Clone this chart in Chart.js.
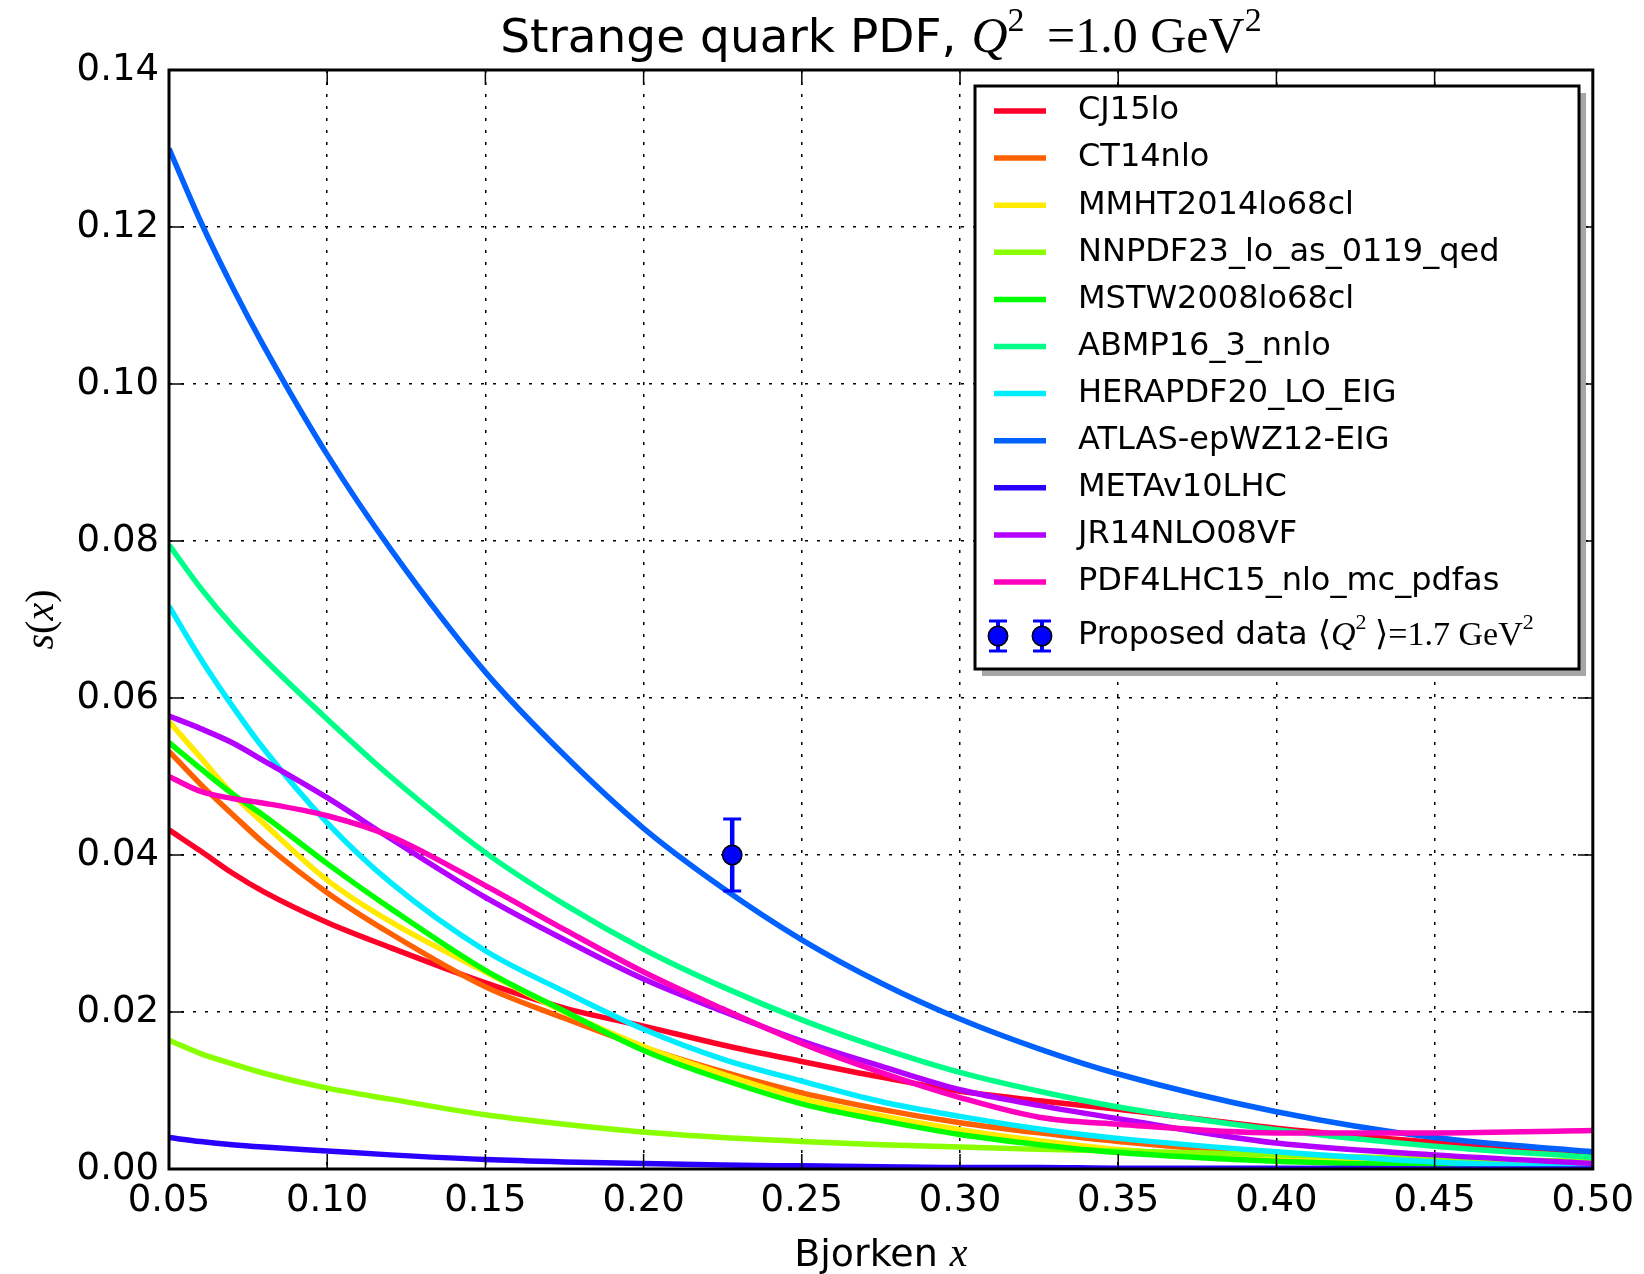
<!DOCTYPE html>
<html>
<head>
<meta charset="utf-8">
<script src="https://cdn.jsdelivr.net/npm/chart.js@4.4.0/dist/chart.umd.min.js"></script>
<style>
  body { margin: 0; background: #fff; }
</style>
</head>
<body>
<canvas id="c" width="1644" height="1274"></canvas>
<script>
// Bjorken x sampling points
const xs = [0.05, 0.06, 0.07, 0.08, 0.10, 0.12, 0.15, 0.175, 0.20, 0.225, 0.25, 0.275, 0.30, 0.325, 0.35, 0.40, 0.45, 0.50];

// s(x), one list per PDF set
const cj15    = [0.0432, 0.0405, 0.0377, 0.0353, 0.0314, 0.0282, 0.0237, 0.0205, 0.0182, 0.0158, 0.0137, 0.0117, 0.0099, 0.0087, 0.0076, 0.0052, 0.0034, 0.0020];
const ct14    = [0.0532, 0.0490, 0.0452, 0.0415, 0.0352, 0.0300, 0.0232, 0.0192, 0.0155, 0.0124, 0.0097, 0.0076, 0.0059, 0.0046, 0.0035, 0.0019, 0.0010, 0.0005];
const mmht    = [0.0570, 0.0524, 0.0478, 0.0440, 0.0368, 0.0315, 0.0251, 0.0200, 0.0156, 0.0121, 0.0090, 0.0068, 0.0050, 0.0036, 0.0025, 0.0013, 0.0006, 0.0003];
const nnpdf   = [0.0164, 0.0147, 0.0134, 0.0122, 0.0103, 0.0089, 0.0069, 0.0057, 0.0047, 0.0040, 0.0035, 0.0031, 0.0028, 0.0025, 0.0023, 0.0018, 0.0013, 0.0010];
const mstw    = [0.0543, 0.0510, 0.0478, 0.0450, 0.0389, 0.0332, 0.0253, 0.0201, 0.0151, 0.0114, 0.0083, 0.0062, 0.0044, 0.0031, 0.0021, 0.0010, 0.0005, 0.0002];
const abmp    = [0.0795, 0.0740, 0.0692, 0.0650, 0.0573, 0.0500, 0.0403, 0.0337, 0.0280, 0.0232, 0.0190, 0.0154, 0.0123, 0.0099, 0.0079, 0.0050, 0.0029, 0.0015];
const hera    = [0.0717, 0.0650, 0.0590, 0.0535, 0.0441, 0.0365, 0.0278, 0.0226, 0.0178, 0.0140, 0.0112, 0.0086, 0.0067, 0.0051, 0.0039, 0.0022, 0.0009, 0.0002];
const atlas   = [0.1300, 0.1207, 0.1124, 0.1048, 0.0910, 0.0790, 0.0633, 0.0527, 0.0434, 0.0358, 0.0292, 0.0237, 0.0191, 0.0153, 0.0121, 0.0073, 0.0040, 0.0022];
const meta    = [0.0040, 0.0035, 0.0031, 0.0028, 0.0023, 0.0018, 0.0012, 0.0009, 0.0007, 0.0005, 0.0004, 0.0003, 0.0002, 0.0002, 0.0001, 0.0001, 0.0000, 0.0000];
const jr14    = [0.0577, 0.0561, 0.0543, 0.0520, 0.0473, 0.0421, 0.0346, 0.0292, 0.0242, 0.0201, 0.0163, 0.0131, 0.0101, 0.0081, 0.0064, 0.0033, 0.0018, 0.0007];
const pdf4lhc = [0.0500, 0.0481, 0.0472, 0.0466, 0.0450, 0.0424, 0.0361, 0.0305, 0.0251, 0.0204, 0.0160, 0.0123, 0.0091, 0.0066, 0.0057, 0.0046, 0.0046, 0.0049];

const labels = ['CJ15lo', 'CT14nlo', 'MMHT2014lo68cl', 'NNPDF23_lo_as_0119_qed', 'MSTW2008lo68cl',
                'ABMP16_3_nnlo', 'HERAPDF20_LO_EIG', 'ATLAS-epWZ12-EIG', 'METAv10LHC', 'JR14NLO08VF', 'PDF4LHC15_nlo_mc_pdfas'];
const series = [cj15, ct14, mmht, nnpdf, mstw, abmp, hera, atlas, meta, jr14, pdf4lhc];
const colors = ['#ff0029', '#ff6000', '#ffea00', '#8aff00', '#00ff00', '#00ff89',
                '#00ecff', '#0061ff', '#2a00ff', '#b400ff', '#ff00bf'];

// proposed measurement
const dataX = [0.228];
const dataY = [0.040];
const dataErr = [0.0046];

const xTicks = { min: 0.05, max: 0.50, step: 0.05 };
const yTicks = { min: 0.00, max: 0.14, step: 0.02 };

const SANS = '"DejaVu Sans", sans-serif';
const SERIF = '"Liberation Serif", "DejaVu Serif", serif';

function drawRuns(ctx, runs, x, y, center) {
    let total = 0;
    runs.forEach(r => { ctx.font = r.font; r.w = ctx.measureText(r.t).width; total += r.w; });
    let px = center ? x - total / 2 : x;
    runs.forEach(r => { ctx.font = r.font; ctx.fillText(r.t, px, y + (r.dy || 0)); px += r.w; });
}

function line(ctx, x1, y1, x2, y2) {
    ctx.beginPath();
    ctx.moveTo(x1, y1);
    ctx.lineTo(x2, y2);
    ctx.stroke();
}

function errMarker(ctx, x, y, r, half, cap) {
    ctx.strokeStyle = '#0000ff';
    ctx.lineWidth = 4;
    line(ctx, x, y - half, x, y + half);
    ctx.lineWidth = 3;
    line(ctx, x - cap, y - half, x + cap, y - half);
    line(ctx, x - cap, y + half, x + cap, y + half);
    ctx.beginPath();
    ctx.arc(x, y, r, 0, Math.PI * 2);
    ctx.fillStyle = '#0000ff';
    ctx.fill();
    ctx.lineWidth = 1.5;
    ctx.strokeStyle = '#000';
    ctx.stroke();
}

const decor = {
    id: 'decor',
    afterDraw(chart) {
        const ctx = chart.ctx;
        const a = chart.chartArea;
        const sx = chart.scales.x, sy = chart.scales.y;
        ctx.save();

        // inward ticks on all four sides
        ctx.strokeStyle = '#000';
        ctx.lineWidth = 1.5;
        sx.ticks.forEach(t => {
            const p = sx.getPixelForValue(t.value);
            line(ctx, p, a.bottom, p, a.bottom - 15);
            line(ctx, p, a.top, p, a.top + 15);
        });
        sy.ticks.forEach(t => {
            const p = sy.getPixelForValue(t.value);
            line(ctx, a.left, p, a.left + 15, p);
            line(ctx, a.right, p, a.right - 15, p);
        });

        // frame
        ctx.lineWidth = 3;
        ctx.strokeRect(a.left, a.top, a.right - a.left, a.bottom - a.top);

        // title
        ctx.fillStyle = '#000';
        ctx.textBaseline = 'alphabetic';
        drawRuns(ctx, [
            { t: 'Strange quark PDF, ', font: '47px ' + SANS },
            { t: 'Q', font: 'italic 50px ' + SERIF },
            { t: '2', font: '34px ' + SERIF, dy: -21 },
            { t: ' \u2009=1.0 GeV', font: '50px ' + SERIF },
            { t: '2', font: '34px ' + SERIF, dy: -21 },
        ], (a.left + a.right) / 2, 52, true);

        // x axis label
        drawRuns(ctx, [
            { t: 'Bjorken ', font: '38px ' + SANS },
            { t: 'x', font: 'italic 40px ' + SERIF },
        ], (a.left + a.right) / 2, 1266, true);

        // y axis label
        ctx.save();
        ctx.translate(42, (a.top + a.bottom) / 2);
        ctx.rotate(-Math.PI / 2);
        ctx.textBaseline = 'middle';
        drawRuns(ctx, [
            { t: 's', font: 'italic 40px ' + SERIF },
            { t: '(', font: '40px ' + SERIF },
            { t: 'x', font: 'italic 40px ' + SERIF },
            { t: ')', font: '40px ' + SERIF },
        ], 0, 0, true);
        ctx.restore();

        // legend
        const L = { x: 975, y: 86, w: 604, h: 583, row0: 111, step: 47.1, dataRow: 636 };
        ctx.fillStyle = '#a6a6a6';
        ctx.fillRect(L.x + 7, L.y + 7, L.w, L.h);
        ctx.fillStyle = '#fff';
        ctx.fillRect(L.x, L.y, L.w, L.h);
        ctx.strokeStyle = '#000';
        ctx.lineWidth = 3;
        ctx.strokeRect(L.x, L.y, L.w, L.h);

        ctx.textBaseline = 'middle';
        labels.forEach((lab, i) => {
            const yy = L.row0 + i * L.step;
            ctx.strokeStyle = colors[i];
            ctx.lineWidth = 5.5;
            line(ctx, 994, yy, 1046, yy);
            ctx.fillStyle = '#000';
            ctx.font = '32px ' + SANS;
            ctx.fillText(lab, 1078, yy);
        });
        errMarker(ctx, 998, L.dataRow, 9.7, 15, 9);
        errMarker(ctx, 1042, L.dataRow, 9.7, 15, 9);
        ctx.fillStyle = '#000';
        drawRuns(ctx, [
            { t: 'Proposed data ', font: '32px ' + SANS },
            { t: '\u27E8', font: '34px ' + SERIF },
            { t: 'Q', font: 'italic 34px ' + SERIF },
            { t: '2', font: '22px ' + SERIF, dy: -13 },
            { t: ' \u27E9=1.7 GeV', font: '34px ' + SERIF },
            { t: '2', font: '22px ' + SERIF, dy: -13 },
        ], 1078, L.dataRow, false);

        ctx.restore();
    }
};

const n = series.length;
const datasets = series.map((vals, i) => ({
    label: labels[i],
    data: xs.map((x, k) => ({ x: x, y: vals[k] })),
    borderColor: colors[i],
    backgroundColor: colors[i],
    borderWidth: 5.5,
    pointRadius: 0,
    cubicInterpolationMode: 'monotone',
    fill: false,
    order: n - i + 2,
}));

// error bar, caps drawn as 'line' point markers
datasets.push({
    label: 'err',
    data: [{ x: dataX[0], y: dataY[0] - dataErr[0] }, { x: dataX[0], y: dataY[0] + dataErr[0] }],
    borderColor: '#0000ff',
    borderWidth: 4.5,
    pointStyle: 'line',
    pointRadius: 9,
    pointBorderWidth: 3,
    pointBorderColor: '#0000ff',
    tension: 0,
    order: 1,
});
datasets.push({
    label: 'Proposed data',
    data: dataX.map((x, k) => ({ x: x, y: dataY[k] })),
    showLine: false,
    pointStyle: 'circle',
    pointRadius: 9.7,
    pointBackgroundColor: '#0000ff',
    pointBorderColor: '#000',
    pointBorderWidth: 1.5,
    order: 0,
});

const tickFont = { family: SANS, size: 37 };

new Chart(document.getElementById('c'), {
    type: 'line',
    data: { datasets: datasets },
    options: {
        responsive: false,
        animation: false,
        events: [],
        devicePixelRatio: 1,
        layout: { padding: { top: 70, right: 49, left: 0, bottom: 0 } },
        plugins: {
            legend: { display: false },
            title: { display: false },
            tooltip: { enabled: false },
        },
        scales: {
            x: {
                type: 'linear',
                min: xTicks.min,
                max: xTicks.max,
                ticks: {
                    stepSize: xTicks.step,
                    callback: v => v.toFixed(2),
                    font: tickFont,
                    color: '#000',
                    padding: 10,
                    maxRotation: 0,
                    autoSkip: false,
                },
                grid: { color: '#000', lineWidth: 1.5, drawTicks: false },
                border: { display: false, dash: [3, 9] },
                afterFit: s => { s.height = 105; },
            },
            y: {
                type: 'linear',
                min: yTicks.min,
                max: yTicks.max,
                ticks: {
                    stepSize: yTicks.step,
                    callback: v => v.toFixed(2),
                    font: tickFont,
                    color: '#000',
                    padding: 10,
                    autoSkip: false,
                },
                grid: { color: '#000', lineWidth: 1.5, drawTicks: false },
                border: { display: false, dash: [3, 9] },
                afterFit: s => { s.width = 169; },
            },
        },
    },
    plugins: [decor],
});
</script>
</body>
</html>
